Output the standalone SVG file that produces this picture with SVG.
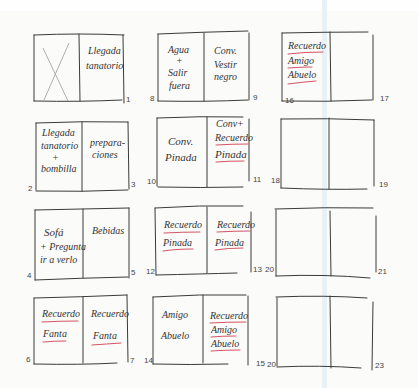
<svg xmlns="http://www.w3.org/2000/svg" width="418" height="388" viewBox="0 0 418 388">
<style>
.bg{fill:#fbfbf9}
.ln{fill:none;stroke:#3a3a3a;stroke-width:1;stroke-linecap:round}
.x{fill:none;stroke:#9a9a9a;stroke-width:0.8}
.t{font-family:"Liberation Serif",serif;font-style:italic;font-size:10px;fill:#333}
.tl{font-family:"Liberation Serif",serif;font-style:italic;font-size:11px;fill:#333}
.n{font-family:"Liberation Sans",sans-serif;font-size:8px;fill:#444}
.u{fill:none;stroke:#cf3f55;stroke-width:0.9;stroke-linecap:round}
</style>
<rect class="bg" width="418" height="388"/>
<rect x="0" y="0" width="418" height="11" fill="#fefefe"/>
<rect x="322" y="0" width="5" height="388" fill="#e9f0f6"/>

<g id="spread-1-2">
<path class="ln" d="M34,35 Q80,33 124,35"/>
<path class="ln" d="M34,35 L34,101"/>
<path class="ln" d="M79,34 L80,101"/>
<path class="ln" d="M123,35 L124,103"/>
<path class="ln" d="M34,101 Q80,102 122,100"/>
<path class="x" d="M43,48 L68,101 M69,43 L44,100"/>
<text class="t" x="88" y="54">Llegada</text>
<text class="t" x="86" y="69">tanatorio</text>
<text class="n" x="126" y="102">1</text>
</g>

<g id="spread-8-9">
<path class="ln" d="M158,34 Q203,32 248,31"/>
<path class="ln" d="M158,34 L158,101"/>
<path class="ln" d="M204,33 L204,101"/>
<path class="ln" d="M249,33 L249,100"/>
<path class="ln" d="M158,101 Q205,102 248,100"/>
<text class="t" x="168" y="53">Agua</text>
<text class="t" x="176" y="64">+</text>
<text class="t" x="168" y="76">Salir</text>
<text class="t" x="169" y="89">fuera</text>
<text class="t" x="214" y="54">Conv.</text>
<text class="t" x="214" y="68">Vestir</text>
<text class="t" x="214" y="80">negro</text>
<text class="n" x="150" y="101">8</text>
<text class="n" x="253" y="100">9</text>
</g>

<g id="spread-16-17">
<path class="ln" d="M282,33 Q325,32 368,32"/>
<path class="ln" d="M282,33 L282,101"/>
<path class="ln" d="M330,32 L331,101"/>
<path class="ln" d="M373,35 L373,100"/>
<path class="ln" d="M282,101 Q325,102 372,100"/>
<text class="t" x="288" y="49">Recuerdo</text>
<path class="u" d="M288,54 Q305,52 323,52"/>
<text class="t" x="288" y="64">Amigo</text>
<path class="u" d="M288,68 Q300,67 312,67"/>
<text class="t" x="288" y="78">Abuelo</text>
<path class="u" d="M288,84 Q303,82 316,81"/>
<text class="n" x="285" y="103">16</text>
<text class="n" x="380" y="101">17</text>
</g>

<g id="spread-2-3">
<path class="ln" d="M36,123 Q82,121 128,122"/>
<path class="ln" d="M36,123 L36,190"/>
<path class="ln" d="M82,122 L82,191"/>
<path class="ln" d="M128,122 L129,189"/>
<path class="ln" d="M36,191 Q82,192 128,190"/>
<text class="t" x="42" y="136">Llegada</text>
<text class="t" x="41" y="149">tanatorio</text>
<text class="t" x="52" y="161">+</text>
<text class="t" x="41" y="172">bombilla</text>
<text class="t" x="90" y="146">prepara-</text>
<text class="t" x="92" y="158">ciones</text>
<text class="n" x="28" y="191">2</text>
<text class="n" x="131" y="187">3</text>
</g>

<g id="spread-10-11">
<path class="ln" d="M157,118 Q200,116 243,117"/>
<path class="ln" d="M157,118 L157,186"/>
<path class="ln" d="M207,117 L207,187"/>
<path class="ln" d="M249,119 L249,181"/>
<path class="ln" d="M158,187 Q200,188 243,187"/>
<text class="tl" x="168" y="145">Conv.</text>
<text class="tl" x="165" y="161">Pinada</text>
<text class="t" x="216" y="127">Conv+</text>
<text class="t" x="215" y="141">Recuerdo</text>
<path class="u" d="M216,145 Q232,144 248,144"/>
<text class="tl" x="215" y="158">Pinada</text>
<path class="u" d="M216,162 Q228,161 244,161"/>
<text class="n" x="147" y="184">10</text>
<text class="n" x="253" y="182">11</text>
</g>

<g id="spread-18-19">
<path class="ln" d="M281,119 Q328,118 374,120"/>
<path class="ln" d="M281,119 L281,188"/>
<path class="ln" d="M329,118 L329,189"/>
<path class="ln" d="M374,120 L374,186"/>
<path class="ln" d="M281,188 Q327,190 367,189"/>
<text class="n" x="271" y="183">18</text>
<text class="n" x="379" y="187">19</text>
</g>

<g id="spread-4-5">
<path class="ln" d="M35,210 Q82,209 129,208"/>
<path class="ln" d="M35,210 L35,280"/>
<path class="ln" d="M83,209 L83,278"/>
<path class="ln" d="M129,208 L129,278"/>
<path class="ln" d="M35,280 Q82,278 128,277"/>
<text class="tl" x="44" y="236">Sofá</text>
<text class="t" x="40" y="250">+ Pregunta</text>
<text class="t" x="40" y="263">ir a verlo</text>
<text class="t" x="92" y="234">Bebidas</text>
<text class="n" x="27" y="278">4</text>
<text class="n" x="131" y="275">5</text>
</g>

<g id="spread-12-13">
<path class="ln" d="M155,208 Q200,205 243,206"/>
<path class="ln" d="M155,208 L156,275"/>
<path class="ln" d="M207,207 L207,273"/>
<path class="ln" d="M251,212 L251,272"/>
<path class="ln" d="M156,275 Q200,274 237,273"/>
<text class="t" x="164" y="228">Recuerdo</text>
<path class="u" d="M164,233 Q183,232 200,232"/>
<text class="t" x="163" y="246">Pinada</text>
<path class="u" d="M163,251 Q176,249 193,249"/>
<text class="t" x="217" y="228">Recuerdo</text>
<path class="u" d="M217,232 Q235,231 250,231"/>
<text class="t" x="215" y="246">Pinada</text>
<path class="u" d="M215,250 Q228,248 243,248"/>
<text class="n" x="146" y="274">12</text>
<text class="n" x="253" y="272">13</text>
</g>

<g id="spread-20-21">
<path class="ln" d="M275,209 Q325,207 373,208"/>
<path class="ln" d="M276,210 L276,276"/>
<path class="ln" d="M330,211 L331,276"/>
<path class="ln" d="M376,216 L376,272"/>
<path class="ln" d="M276,276 Q325,274 370,278"/>
<text class="n" x="265" y="272">20</text>
<text class="n" x="378" y="274">21</text>
</g>

<g id="spread-6-7">
<path class="ln" d="M34,298 Q80,297 127,295"/>
<path class="ln" d="M34,298 L34,364"/>
<path class="ln" d="M83,297 L83,363"/>
<path class="ln" d="M127,295 L128,362"/>
<path class="ln" d="M34,364 Q80,365 117,363"/>
<text class="t" x="42" y="317">Recuerdo</text>
<path class="u" d="M42,322 Q60,321 78,321"/>
<text class="t" x="43" y="337">Fanta</text>
<path class="u" d="M43,342 Q54,341 66,341"/>
<text class="t" x="91" y="317">Recuerdo</text>
<text class="t" x="93" y="339">Fanta</text>
<path class="u" d="M92,345 Q107,344 121,343"/>
<text class="n" x="26" y="362">6</text>
<text class="n" x="130" y="363">7</text>
</g>

<g id="spread-14-15">
<path class="ln" d="M153,297 Q200,294 246,295"/>
<path class="ln" d="M153,297 L153,364"/>
<path class="ln" d="M203,295 L203,363"/>
<path class="ln" d="M248,296 L248,365"/>
<path class="ln" d="M153,364 Q190,365 228,364"/>
<text class="t" x="162" y="318">Amigo</text>
<text class="t" x="161" y="339">Abuelo</text>
<text class="t" x="210" y="319">Recuerdo</text>
<path class="u" d="M210,323 Q227,322 246,322"/>
<text class="t" x="211" y="333">Amigo</text>
<path class="u" d="M211,337 Q222,336 236,336"/>
<text class="t" x="211" y="347">Abuelo</text>
<path class="u" d="M211,351 Q225,350 240,350"/>
<text class="n" x="144" y="363">14</text>
<text class="n" x="256" y="366">15</text>
</g>

<g id="spread-22-23">
<path class="ln" d="M276,297 Q325,295 367,298"/>
<path class="ln" d="M277,298 L277,366"/>
<path class="ln" d="M330,296 L331,368"/>
<path class="ln" d="M373,302 L372,370"/>
<path class="ln" d="M277,367 Q320,365 361,368"/>
<text class="n" x="267" y="367">20</text>
<text class="n" x="375" y="368">23</text>
</g>
</svg>
